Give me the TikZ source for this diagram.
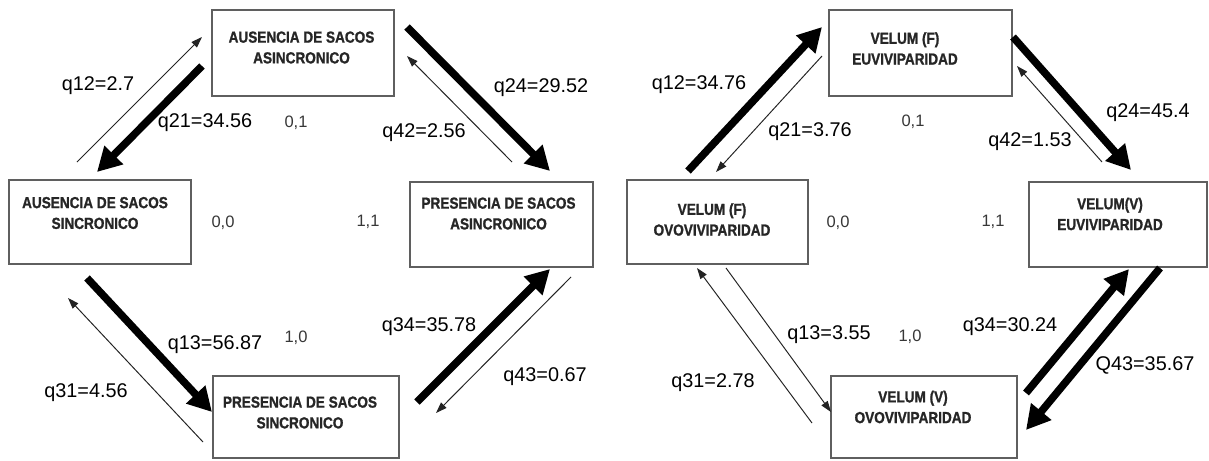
\documentclass[tikz,border=0pt]{standalone}
\usepackage{fontspec}
\setmainfont{Liberation Sans}
\newfontfamily\boxfont[FakeStretch=0.85,FakeBold=1.2]{Liberation Sans}
\usetikzlibrary{arrows.meta}
\definecolor{boxgray}{RGB}{95,95,95}
\definecolor{thinline}{RGB}{35,35,35}
\definecolor{statecol}{RGB}{55,55,55}
\begin{document}
\begin{tikzpicture}[x=0.02cm,y=-0.02cm,
  box/.style={draw=boxgray, line width=0.85pt, inner sep=0pt},
  boxtext/.style={font=\boxfont\bfseries\fontsize{9.1}{11.8}\selectfont, align=center, inner sep=0pt, text=black!85},
  rate/.style={font=\fontsize{11.3}{13}\selectfont, inner sep=0pt},
  statelbl/.style={font=\fontsize{9.4}{11}\selectfont, text=statecol, inner sep=0pt},
  fast/.style={line width=4.3pt, -{Triangle[length=0.48cm,width=0.5cm]}},
  slow/.style={line width=0.55pt, draw=thinline, -{Triangle[length=0.22cm,width=0.15cm]}},
]
\useasboundingbox[fill=white] (0,0) rectangle (1209,460);

% ---------- left model: sacs ----------
\node[box, minimum width=3.64cm, minimum height=1.72cm] (b2) at (303,53) {};
\node[boxtext] (b2t) at (301.5,47.5) {AUSENCIA DE SACOS\\ASINCRONICO};
\node[box, minimum width=3.64cm, minimum height=1.68cm] (b1) at (100,222) {};
\node[boxtext] (b1t) at (95,213) {AUSENCIA DE SACOS\\SINCRONICO};
\node[box, minimum width=3.66cm, minimum height=1.70cm] (b4) at (501.5,224.5) {};
\node[boxtext] (b4t) at (498.5,213.5) {PRESENCIA DE SACOS\\ASINCRONICO};
\node[box, minimum width=3.72cm, minimum height=1.64cm] (b3) at (306,417) {};
\node[boxtext] (b3t) at (300,412.5) {PRESENCIA DE SACOS\\SINCRONICO};

\node[statelbl] (s01) at (296,123) {0,1};
\node[statelbl] (s00) at (223,223) {0,0};
\node[statelbl] (s11) at (368,222) {1,1};
\node[statelbl] (s10) at (296,338) {1,0};

\coordinate (a12s) at (77,162);  \coordinate (a12e) at (202,37);
\coordinate (a21s) at (202,66);  \coordinate (a21e) at (97,172);
\coordinate (a24s) at (407,27);  \coordinate (a24e) at (550,171);
\coordinate (a42s) at (512,162); \coordinate (a42e) at (407,56);
\coordinate (a13s) at (87,278);  \coordinate (a13e) at (212,412);
\coordinate (a31s) at (203,442); \coordinate (a31e) at (68,298);
\coordinate (a34s) at (417,402); \coordinate (a34e) at (550,269);
\coordinate (a43s) at (571,277); \coordinate (a43e) at (436,413);

\draw[slow] (a12s) -- (a12e);
\draw[fast] (a21s) -- (a21e);
\draw[fast] (a24s) -- (a24e);
\draw[slow] (a42s) -- (a42e);
\draw[fast] (a13s) -- (a13e);
\draw[slow] (a31s) -- (a31e);
\draw[fast] (a34s) -- (a34e);
\draw[slow] (a43s) -- (a43e);

\node[rate] (r12) at (98,86) {q12=2.7};
\node[rate] (r21) at (205,123) {q21=34.56};
\node[rate] (r24) at (541,88) {q24=29.52};
\node[rate] (r42) at (424,133) {q42=2.56};
\node[rate] (r13) at (215,345) {q13=56.87};
\node[rate] (r31) at (86,393) {q31=4.56};
\node[rate] (r34) at (429,327) {q34=35.78};
\node[rate] (r43) at (545,377) {q43=0.67};

% ---------- right model: velum ----------
\node[box, minimum width=3.66cm, minimum height=1.72cm] (v2) at (920.5,53) {};
\node[boxtext] (v2t) at (905,48.5) {VELUM (F)\\EUVIVIPARIDAD};
\node[box, minimum width=3.62cm, minimum height=1.68cm] (v1) at (717.5,222) {};
\node[boxtext] (v1t) at (712,219.5) {VELUM (F)\\OVOVIVIPARIDAD};
\node[box, minimum width=3.56cm, minimum height=1.70cm] (v4) at (1118,224.5) {};
\node[boxtext] (v4t) at (1110,214) {VELUM(V)\\EUVIVIPARIDAD};
\node[box, minimum width=3.72cm, minimum height=1.64cm] (v3) at (924,417) {};
\node[boxtext] (v3t) at (913,407) {VELUM (V)\\OVOVIVIPARIDAD};

\node[statelbl] (t01) at (913,122) {0,1};
\node[statelbl] (t00) at (838,223) {0,0};
\node[statelbl] (t11) at (993,222) {1,1};
\node[statelbl] (t10) at (910,337) {1,0};

\coordinate (b12s) at (688,171);  \coordinate (b12e) at (822,27);
\coordinate (b21s) at (822,56);   \coordinate (b21e) at (716,172);
\coordinate (b24s) at (1013,37);  \coordinate (b24e) at (1131,170);
\coordinate (b42s) at (1102,162); \coordinate (b42e) at (1017,66);
\coordinate (b13s) at (726,268);  \coordinate (b13e) at (831,412);
\coordinate (b31s) at (812,423);  \coordinate (b31e) at (697,268);
\coordinate (b34s) at (1026,393); \coordinate (b34e) at (1129,269);
\coordinate (b43s) at (1160,268); \coordinate (b43e) at (1026,430);

\draw[fast] (b12s) -- (b12e);
\draw[slow] (b21s) -- (b21e);
\draw[fast] (b24s) -- (b24e);
\draw[slow] (b42s) -- (b42e);
\draw[slow] (b13s) -- (b13e);
\draw[slow] (b31s) -- (b31e);
\draw[fast] (b34s) -- (b34e);
\draw[fast] (b43s) -- (b43e);

\node[rate] (u12) at (699,85) {q12=34.76};
\node[rate] (u21) at (810,132) {q21=3.76};
\node[rate] (u24) at (1148,113) {q24=45.4};
\node[rate] (u42) at (1030,142) {q42=1.53};
\node[rate] (u13) at (829,335) {q13=3.55};
\node[rate] (u31) at (713,383) {q31=2.78};
\node[rate] (u34) at (1010,327) {q34=30.24};
\node[rate] (u43) at (1145,365) {Q43=35.67};
\end{tikzpicture}
\end{document}
